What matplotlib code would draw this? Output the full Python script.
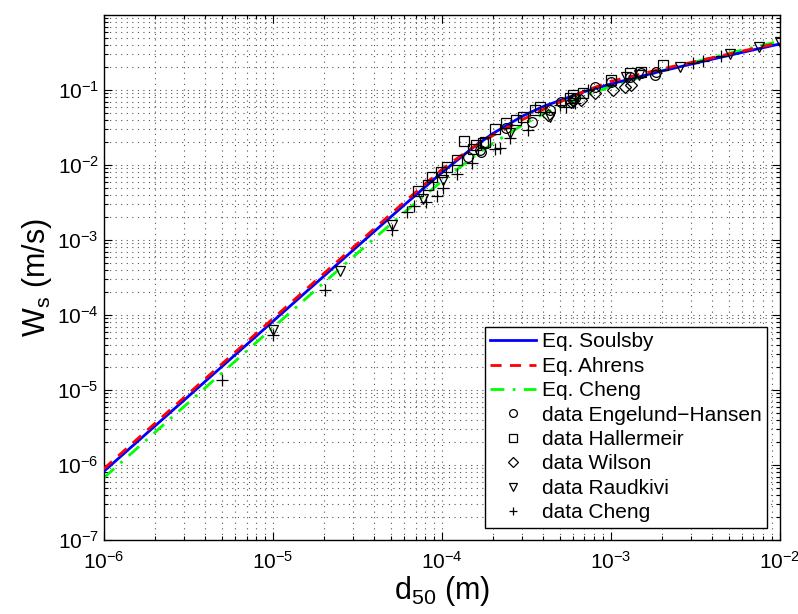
import matplotlib
matplotlib.use("Agg")
import matplotlib.pyplot as plt
from matplotlib.ticker import LogLocator, NullFormatter

plt.rcParams['font.family'] = ['Liberation Sans', 'DejaVu Sans']
plt.rcParams['mathtext.default'] = 'regular'

# Model curves
d_curve = [1e-6, 1e-5, 3e-5, 6e-5, 1e-4, 1.5e-4, 2e-4, 3e-4, 4e-4, 7e-4, 1e-3, 2e-3, 4e-3, 7e-3, 1e-2]
ws_soulsby = [8.2e-7, 8.2e-5, 7.37e-4, 2.93e-3, 7.90e-3, 0.01648, 0.0262, 0.0448, 0.0605, 0.0952, 0.1204, 0.179, 0.258, 0.3434, 0.411]
ws_ahrens = [8.9e-7, 8.9e-5, 8.0e-4, 3.2e-3, 8.7e-3, 0.0168, 0.0246, 0.0402, 0.0553, 0.0965, 0.1302, 0.1907, 0.2698, 0.3568, 0.4265]
ws_cheng = [6.74e-7, 6.74e-5, 5.99e-4, 2.33e-3, 6.07e-3, 0.01227, 0.01935, 0.0340, 0.0479, 0.0833, 0.1115, 0.180, 0.2727, 0.3714, 0.449]

# Measured data
eh_d = [1.43e-4, 1.72e-4, 1.68e-4, 2.41e-4, 3.40e-4, 4.36e-4, 5.11e-4, 5.98e-4, 6.12e-4, 8.04e-4, 1.01e-3, 1.30e-3, 1.52e-3, 1.82e-3, 1.86e-3]
eh_w = [0.0129, 0.0150, 0.0158, 0.0309, 0.0378, 0.0541, 0.0699, 0.0736, 0.0775, 0.111, 0.129, 0.150, 0.167, 0.158, 0.175]

hal_d = [7.2e-5, 8.3e-5, 8.8e-5, 9.95e-5, 1.07e-4, 1.24e-4, 1.36e-4, 1.53e-4, 1.60e-4, 1.76e-4, 1.80e-4, 2.06e-4, 2.39e-4, 2.77e-4, 3.03e-4, 3.55e-4, 3.80e-4, 5.72e-4, 5.98e-4, 6.86e-4, 1.01e-3, 1.30e-3, 1.52e-3, 2.04e-3]
hal_w = [4.5e-3, 5.4e-3, 6.86e-3, 8.1e-3, 9.5e-3, 0.0117, 0.0211, 0.0162, 0.0185, 0.0198, 0.0205, 0.0299, 0.0360, 0.0398, 0.0441, 0.0541, 0.0599, 0.0775, 0.0858, 0.0904, 0.136, 0.167, 0.175, 0.215]

wil_d = [4.24e-4, 5.83e-4, 6.71e-4, 8.04e-4, 1.03e-3, 1.21e-3, 1.32e-3]
wil_w = [0.0464, 0.0700, 0.0736, 0.0904, 0.100, 0.111, 0.117]

rau_d = [1.0e-5, 2.5e-5, 5.1e-5, 7.7e-5, 1.02e-4, 2.53e-4, 4.36e-4, 5.98e-4, 1.24e-3, 1.48e-3, 2.56e-3, 5.06e-3, 7.5e-3, 1.0e-2]
rau_w = [6.3e-5, 3.9e-4, 1.58e-3, 3.49e-3, 6.3e-3, 0.0267, 0.0441, 0.0680, 0.150, 0.158, 0.205, 0.300, 0.380, 0.440]

che_d = [5.0e-6, 1.0e-5, 2.03e-5, 5.1e-5, 6.2e-5, 6.9e-5, 8.1e-5, 9.4e-5, 1.02e-4, 1.24e-4, 1.51e-4, 2.06e-4, 2.20e-4, 2.53e-4, 3.24e-4, 4.99e-4, 5.47e-4, 6.12e-4, 7.34e-4, 3.07e-3, 3.52e-3, 4.52e-3]
che_w = [1.36e-5, 5.4e-5, 2.15e-4, 1.36e-3, 2.38e-3, 2.84e-3, 3.2e-3, 3.86e-3, 4.9e-3, 7.6e-3, 0.0107, 0.0162, 0.0167, 0.0227, 0.0293, 0.0631, 0.0599, 0.0665, 0.100, 0.227, 0.246, 0.284]

fig = plt.figure(figsize=(7.98, 6.14), dpi=100)
ax = fig.add_axes([0.130, 0.1205, 0.847, 0.855])

ax.loglog(d_curve, ws_soulsby, '-', color='#0000ff', lw=2.0, label='Eq. Soulsby', zorder=3)
ax.loglog(d_curve, ws_ahrens, '--', color='#ff0000', lw=2.0, dashes=(4, 3), label='Eq. Ahrens', zorder=4)
ax.loglog(d_curve, ws_cheng, '-.', color='#00ff00', lw=2.0, dashes=(5, 3, 1, 3), label='Eq. Cheng', zorder=2)

mk = dict(ls='none', mfc='none', mec='black', mew=0.9, ms=7, zorder=5)
ax.plot(eh_d, eh_w, marker='o', label='data Engelund\u2212Hansen', **mk)
ax.plot(hal_d, hal_w, marker='s', label='data Hallermeir', **mk)
ax.plot(wil_d, wil_w, marker='D', label='data Wilson', **{**mk, 'ms': 6})
ax.plot(rau_d, rau_w, marker='v', label='data Raudkivi', **mk)
ax.plot(che_d, che_w, marker='+', label='data Cheng', **{**mk, 'ms': 8})

ax.set_xlim(1e-6, 1e-2)
ax.set_ylim(1e-7, 1e0)
ax.xaxis.set_minor_locator(LogLocator(base=10, subs=range(2, 10), numticks=100))
ax.yaxis.set_minor_locator(LogLocator(base=10, subs=range(2, 10), numticks=100))
ax.xaxis.set_minor_formatter(NullFormatter())
ax.yaxis.set_minor_formatter(NullFormatter())
yt = [10.0 ** k for k in range(-7, 0)]
ax.set_yticks(yt)
ax.set_yticklabels(['$10^{%d}$' % k for k in range(-7, 0)])
xt = [10.0 ** k for k in range(-6, -1)]
ax.set_xticks(xt)
ax.set_xticklabels(['$10^{%d}$' % k for k in range(-6, -1)])

grid_style = dict(ls=(0, (1, 4)), color='#555555', lw=0.8)
ax.grid(True, which='major', **grid_style)
ax.grid(True, which='minor', **grid_style)
ax.tick_params(which='both', direction='in', top=True, right=True, labelsize=15, width=0.8)
ax.tick_params(which='major', length=6)
ax.tick_params(which='minor', length=3)
ax.tick_params(axis='x', pad=8)
for s in ax.spines.values():
    s.set_linewidth(1.0)

ax.set_xlabel('d$_{50}$ (m)', fontsize=22, labelpad=1)
ax.set_ylabel('W$_{s}$ (m/s)', fontsize=22, labelpad=2)

leg = ax.legend(loc='lower right', fontsize=15, frameon=True, fancybox=False,
                edgecolor='black', framealpha=1, borderpad=0.25, labelspacing=0.26,
                handlelength=2.2, handletextpad=0.3, borderaxespad=0.6,
                markerscale=0.8)
leg.get_frame().set_linewidth(1.0)

fig.savefig('out.png', dpi=100)
